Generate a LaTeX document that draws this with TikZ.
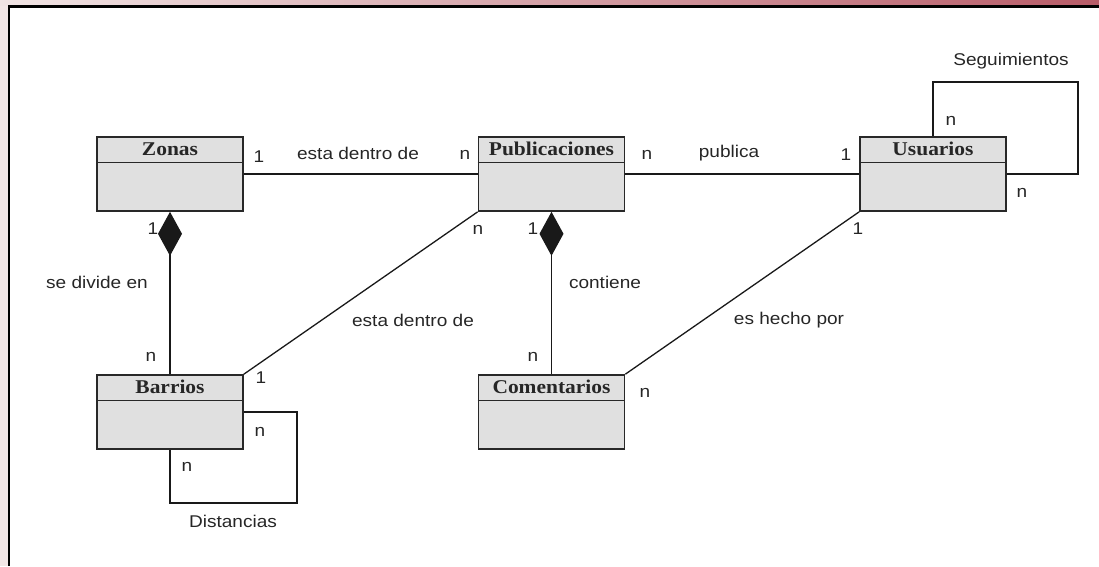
\documentclass[tikz,border=0pt]{standalone}
\usepackage{fontspec}
\usetikzlibrary{arrows.meta}
\newfontfamily\lblfont[FakeStretch=1.12]{Liberation Sans}
\newfontfamily\ttlfont[FakeStretch=1.1]{Liberation Serif}
\definecolor{boxfill}{RGB}{224,224,224}
\definecolor{boxline}{RGB}{40,40,40}
\definecolor{stripL}{RGB}{240,228,228}
\definecolor{stripR}{RGB}{184,92,104}
\definecolor{sideC}{RGB}{242,230,230}
\tikzset{
  entity/.style={draw=boxline, line width=1.6pt, fill=boxfill, minimum width=146pt, minimum height=74pt, inner sep=0pt},
  ttl/.style={font=\ttlfont\bfseries\fontsize{19.5}{21}\selectfont, inner sep=0pt, text=black!85},
  lbl/.style={font=\lblfont\fontsize{17}{19}\selectfont, inner sep=0pt, text=black!85},
  conn/.style={draw=black!90, line width=1.3pt},
  comp/.style={conn, {Diamond[length=44pt,width=24pt]}-}
}
\begin{document}
\begin{tikzpicture}[x=1pt,y=-1pt]
\useasboundingbox (0,0) rectangle (1099,566);
% background frame
\shade[left color=stripL, right color=stripR] (0,0) rectangle (1099,6);
\fill[sideC] (0,6) rectangle (8,566);
\draw[line width=2.2pt, black] (9,566) -- (9,6.5) -- (1099,6.5);

% entities
\node[entity] (Z) at (170,174) {};
\node[entity] (P) at (551.5,174) {};
\node[entity] (U) at (933,174) {};
\node[entity] (B) at (170,412) {};
\node[entity] (C) at (551.5,412) {};
\foreach \n/\t in {Z/Zonas,P/Publicaciones,U/Usuarios,B/Barrios,C/Comentarios}{
  \draw[boxline, line width=1.4pt] (\n.north west) ++(0,26) -- ++(146,0);
  \node[ttl, anchor=center] (\n t) at ([yshift=-13pt]\n.north) {\t};
}

% connectors
\draw[conn] (Z.east) -- (P.west);
\draw[conn] (P.east) -- (U.west);
\draw[comp] (Z.south) -- (B.north);
\draw[comp] (P.south) -- (C.north);
\draw[conn] (P.south west) -- (B.north east);
\draw[conn] (U.south west) -- (C.north east);
\draw[conn] (U.north) |- (1078,82) |- (U.east);
\draw[conn] (B.east) -| (297,503) -| (B.south);

% labels
\node[lbl] (l1) at (259,157) {1};
\node[lbl] (l2) at (358,153) {esta dentro de};
\node[lbl] (l3) at (465,155) {n};
\node[lbl] (l4) at (647,155) {n};
\node[lbl] (l5) at (729,153) {publica};
\node[lbl] (l6) at (846,155) {1};
\node[lbl] (l7) at (153,229) {1};
\node[lbl] (l8) at (97,282) {se divide en};
\node[lbl] (l9) at (151,357) {n};
\node[lbl] (l10) at (533,229) {1};
\node[lbl] (l11) at (605,282) {contiene};
\node[lbl] (l12) at (533,357) {n};
\node[lbl] (l13) at (478,230) {n};
\node[lbl] (l14) at (413,320) {esta dentro de};
\node[lbl] (l15) at (261,378) {1};
\node[lbl] (l16) at (858,229) {1};
\node[lbl] (l17) at (789,320) {es hecho por};
\node[lbl] (l18) at (645,393) {n};
\node[lbl] (l19) at (951,121) {n};
\node[lbl] (l20) at (1022,193) {n};
\node[lbl] (l21) at (1011,61) {Seguimientos};
\node[lbl] (l22) at (260,432) {n};
\node[lbl] (l23) at (187,467) {n};
\node[lbl] (l24) at (233,521) {Distancias};
\end{tikzpicture}
\end{document}
